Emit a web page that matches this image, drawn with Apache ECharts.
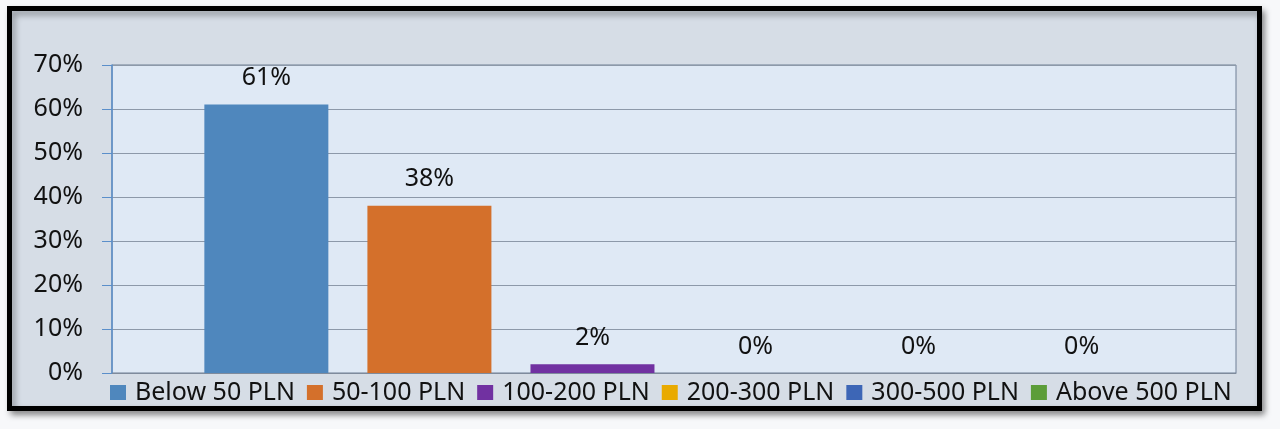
<!DOCTYPE html>
<html>
<head>
<meta charset="utf-8">
<script src="https://cdn.jsdelivr.net/npm/echarts@6/dist/echarts.min.js"></script>
<style>
html,body{margin:0;padding:0;background:#f7f8fa;}
#chart{width:1280px;height:429px;}
</style>
</head>
<body>
<div id="chart"></div>
<script>
var seriesNames = ['Below 50 PLN', '50-100 PLN', '100-200 PLN', '200-300 PLN', '300-500 PLN', 'Above 500 PLN'];
var seriesValues = [61, 38, 2, 0, 0, 0];
var seriesColors = ['#4f87bd', '#d4702b', '#7131a1', '#e9aa00', '#3d66b6', '#5c9d39'];
var yTicks = [0, 10, 20, 30, 40, 50, 60, 70];

var FONT = '"Noto Sans", sans-serif';
var chart = echarts.init(document.getElementById('chart'), null, {renderer: 'canvas'});

var series = seriesNames.map(function (name, i) {
  return {
    name: name,
    type: 'bar',
    data: [seriesValues[i]],
    barWidth: 124,
    barGap: '31.5%',
    itemStyle: {color: seriesColors[i]},
    label: {
      show: true,
      position: 'top',
      distance: 14,
      formatter: '{c}%',
      fontFamily: FONT,
      fontSize: 25,
      color: '#111'
    }
  };
});

chart.setOption({
  backgroundColor: '#f7f8fa',
  animation: false,
  graphic: [{
    type: 'rect',
    z: -10,
    shape: {x: 9.5, y: 8.5, width: 1250, height: 400},
    style: {
      fill: '#d6dde6',
      stroke: '#000',
      lineWidth: 5,
      shadowBlur: 6,
      shadowOffsetX: 3,
      shadowOffsetY: 4,
      shadowColor: 'rgba(0,0,0,0.35)'
    }
  }],
  grid: {
    left: 112, top: 65, right: 44, bottom: 56,
    show: true,
    backgroundColor: '#dfe9f5',
    borderColor: '#6f7f95',
    borderWidth: 1,
    containLabel: false
  },
  legend: {
    data: seriesNames,
    left: 105,
    top: 375,
    itemGap: 12,
    itemWidth: 16,
    itemHeight: 15,
    icon: 'rect',
    textStyle: {fontFamily: FONT, fontSize: 25, color: '#111', padding: [0, 0, 0, 4]}
  },
  xAxis: {
    type: 'category',
    data: [''],
    axisLine: {show: true, lineStyle: {color: '#7f8b9c', width: 1}},
    axisTick: {show: false},
    axisLabel: {show: false}
  },
  yAxis: {
    type: 'value',
    min: yTicks[0],
    max: yTicks[yTicks.length - 1],
    interval: 10,
    axisLine: {show: true, lineStyle: {color: '#5b8fca', width: 1.5}},
    axisTick: {show: true, length: 10, lineStyle: {color: '#5b8fca'}},
    splitLine: {show: true, lineStyle: {color: '#8d99a9', width: 1}},
    axisLabel: {
      formatter: '{value}%',
      fontFamily: FONT,
      fontSize: 25,
      color: '#111',
      margin: 29
    }
  },
  series: series
});
</script>
</body>
</html>
